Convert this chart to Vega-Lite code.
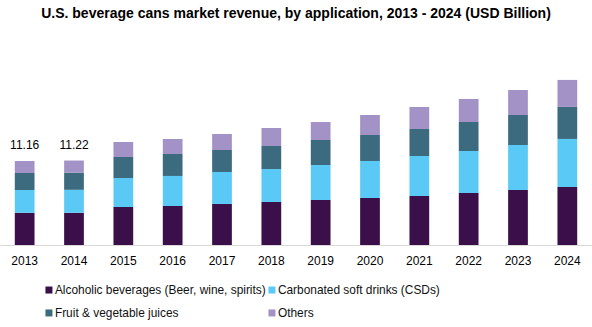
{
  "$schema": "https://vega.github.io/schema/vega-lite/v6.json",
  "width": 592,
  "height": 215,
  "autosize": {"type": "none"},
  "padding": {"left": 0, "right": 0, "top": 30, "bottom": 82},
  "background": "white",
  "config": {
    "view": {"stroke": null},
    "font": "Liberation Sans"
  },
  "title": {
    "text": "U.S. beverage cans market revenue, by application, 2013 - 2024 (USD Billion)",
    "fontSize": 14,
    "fontWeight": "bold",
    "font": "Liberation Sans",
    "color": "#000000",
    "anchor": "middle",
    "offset": 9
  },
  "datasets": {
    "rev": [
      {"year": "2013", "application": "Alcoholic beverages (Beer, wine, spirits)", "value": 4.29},
      {"year": "2013", "application": "Carbonated soft drinks (CSDs)", "value": 3.01},
      {"year": "2013", "application": "Fruit & vegetable juices", "value": 2.26},
      {"year": "2013", "application": "Others", "value": 1.60},
      {"year": "2014", "application": "Alcoholic beverages (Beer, wine, spirits)", "value": 4.28},
      {"year": "2014", "application": "Carbonated soft drinks (CSDs)", "value": 3.05},
      {"year": "2014", "application": "Fruit & vegetable juices", "value": 2.28},
      {"year": "2014", "application": "Others", "value": 1.61},
      {"year": "2015", "application": "Alcoholic beverages (Beer, wine, spirits)", "value": 5.05},
      {"year": "2015", "application": "Carbonated soft drinks (CSDs)", "value": 3.85},
      {"year": "2015", "application": "Fruit & vegetable juices", "value": 2.79},
      {"year": "2015", "application": "Others", "value": 1.99},
      {"year": "2016", "application": "Alcoholic beverages (Beer, wine, spirits)", "value": 5.18},
      {"year": "2016", "application": "Carbonated soft drinks (CSDs)", "value": 3.99},
      {"year": "2016", "application": "Fruit & vegetable juices", "value": 2.92},
      {"year": "2016", "application": "Others", "value": 1.99},
      {"year": "2017", "application": "Alcoholic beverages (Beer, wine, spirits)", "value": 5.45},
      {"year": "2017", "application": "Carbonated soft drinks (CSDs)", "value": 4.25},
      {"year": "2017", "application": "Fruit & vegetable juices", "value": 2.92},
      {"year": "2017", "application": "Others", "value": 2.13},
      {"year": "2018", "application": "Alcoholic beverages (Beer, wine, spirits)", "value": 5.71},
      {"year": "2018", "application": "Carbonated soft drinks (CSDs)", "value": 4.38},
      {"year": "2018", "application": "Fruit & vegetable juices", "value": 3.06},
      {"year": "2018", "application": "Others", "value": 2.39},
      {"year": "2019", "application": "Alcoholic beverages (Beer, wine, spirits)", "value": 5.98},
      {"year": "2019", "application": "Carbonated soft drinks (CSDs)", "value": 4.65},
      {"year": "2019", "application": "Fruit & vegetable juices", "value": 3.32},
      {"year": "2019", "application": "Others", "value": 2.39},
      {"year": "2020", "application": "Alcoholic beverages (Beer, wine, spirits)", "value": 6.24},
      {"year": "2020", "application": "Carbonated soft drinks (CSDs)", "value": 4.92},
      {"year": "2020", "application": "Fruit & vegetable juices", "value": 3.45},
      {"year": "2020", "application": "Others", "value": 2.66},
      {"year": "2021", "application": "Alcoholic beverages (Beer, wine, spirits)", "value": 6.51},
      {"year": "2021", "application": "Carbonated soft drinks (CSDs)", "value": 5.31},
      {"year": "2021", "application": "Fruit & vegetable juices", "value": 3.59},
      {"year": "2021", "application": "Others", "value": 2.92},
      {"year": "2022", "application": "Alcoholic beverages (Beer, wine, spirits)", "value": 6.91},
      {"year": "2022", "application": "Carbonated soft drinks (CSDs)", "value": 5.58},
      {"year": "2022", "application": "Fruit & vegetable juices", "value": 3.85},
      {"year": "2022", "application": "Others", "value": 3.06},
      {"year": "2023", "application": "Alcoholic beverages (Beer, wine, spirits)", "value": 7.31},
      {"year": "2023", "application": "Carbonated soft drinks (CSDs)", "value": 5.98},
      {"year": "2023", "application": "Fruit & vegetable juices", "value": 3.99},
      {"year": "2023", "application": "Others", "value": 3.32},
      {"year": "2024", "application": "Alcoholic beverages (Beer, wine, spirits)", "value": 7.71},
      {"year": "2024", "application": "Carbonated soft drinks (CSDs)", "value": 6.38},
      {"year": "2024", "application": "Fruit & vegetable juices", "value": 4.25},
      {"year": "2024", "application": "Others", "value": 3.59}
    ],
    "totals": [
      {"year": "2013", "total": 11.16},
      {"year": "2014", "total": 11.22}
    ]
  },
  "encoding": {
    "x": {
      "field": "year",
      "type": "nominal",
      "scale": {"paddingInner": 0.6, "paddingOuter": 0.3},
      "axis": {
        "title": null,
        "labelAngle": 0,
        "ticks": false,
        "tickSize": 0,
        "labelPadding": 10,
        "labelFontSize": 12,
        "labelColor": "#000000",
        "labelFont": "Liberation Sans",
        "domainColor": "#d9d9d9",
        "domainWidth": 1,
        "grid": false
      }
    }
  },
  "layer": [
    {
      "data": {"name": "rev"},
      "mark": {"type": "bar"},
      "encoding": {
        "y": {
          "field": "value",
          "type": "quantitative",
          "stack": "zero",
          "scale": {"domain": [0, 28.56], "nice": false, "zero": true},
          "axis": null
        },
        "order": {"field": "application", "sort": "ascending"},
        "color": {
          "field": "application",
          "type": "nominal",
          "sort": ["Alcoholic beverages (Beer, wine, spirits)", "Carbonated soft drinks (CSDs)", "Fruit & vegetable juices", "Others"],
          "scale": {
            "domain": ["Alcoholic beverages (Beer, wine, spirits)", "Carbonated soft drinks (CSDs)", "Fruit & vegetable juices", "Others"],
            "range": ["#3a0f4a", "#5bc9f6", "#3c6b80", "#a392c5"]
          },
          "legend": {
            "title": null,
            "orient": "none",
            "legendX": 43,
            "legendY": 254,
            "direction": "horizontal",
            "columns": 2,
            "columnPadding": 0,
            "rowPadding": 10,
            "symbolType": "square",
            "symbolSize": 49,
            "symbolStrokeWidth": 0,
            "labelFontSize": 11.9,
            "labelFont": "Liberation Sans",
            "labelColor": "#111111",
            "labelOffset": 0,
            "labelLimit": 400
          }
        }
      }
    },
    {
      "data": {"name": "totals"},
      "mark": {"type": "text", "fontSize": 12, "font": "Liberation Sans", "color": "#000000", "baseline": "alphabetic", "dy": -12},
      "encoding": {
        "y": {"field": "total", "type": "quantitative"},
        "text": {"field": "total", "type": "quantitative", "format": ".2f"}
      }
    }
  ]
}
